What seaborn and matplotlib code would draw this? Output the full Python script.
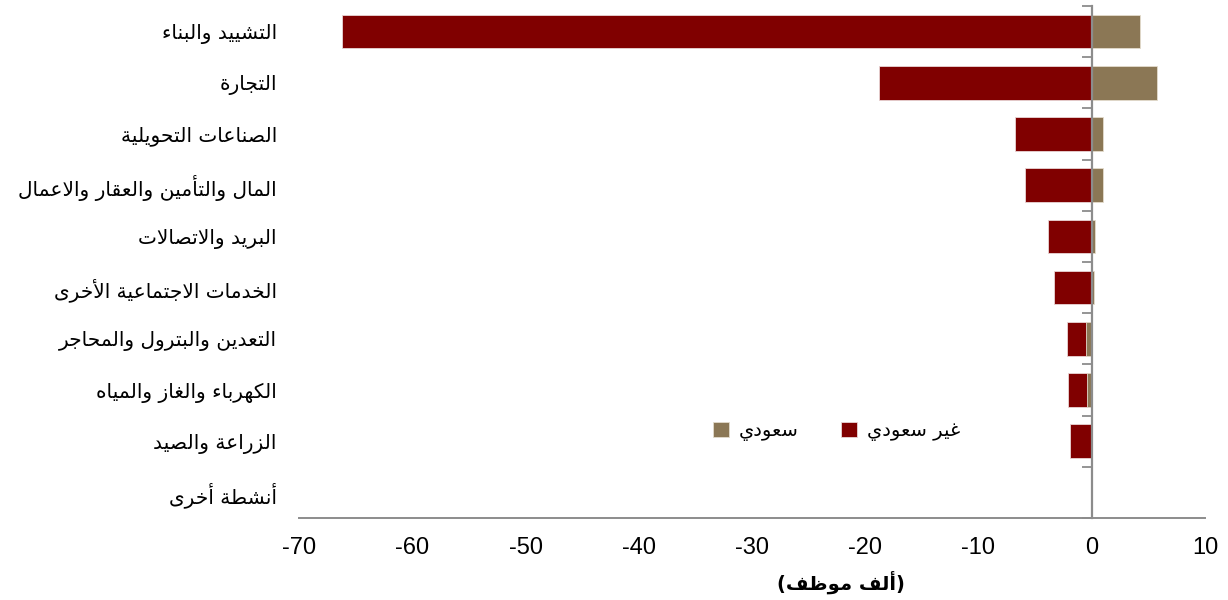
import matplotlib
matplotlib.use('Agg')
import matplotlib.pyplot as plt
import seaborn as sns
import numpy as np
import pandas as pd

# data (thousand employees)
sectors = [
    'التشييد والبناء',
    'التجارة',
    'الصناعات التحويلية',
    'المال والتأمين والعقار والاعمال',
    'البريد والاتصالات',
    'الخدمات الاجتماعية الأخرى',
    'التعدين والبترول والمحاجر',
    'الكهرباء والغاز والمياه',
    'الزراعة والصيد',
    'أنشطة أخرى',
]
saudi = [4.3, 5.8, 1.0, 1.0, 0.3, 0.2, -0.5, -0.4, 0.0, 0.0]
non_saudi = [-66.2, -18.8, -6.8, -5.9, -3.9, -3.3, -1.7, -1.7, -1.9, 0.0]
x_ticks = [-70, -60, -50, -40, -30, -20, -10, 0, 10]
saudi_label = 'سعودي'
non_saudi_label = 'غير سعودي'
x_label = 'ألف موظف'

# matplotlib has no arabic shaping, so map letters to presentation forms
# tuple: (isolated, final, initial, medial)
FORMS = {
    '\u0621': ('\uFE80',),
    '\u0623': ('\uFE83', '\uFE84'),
    '\u0627': ('\uFE8D', '\uFE8E'),
    '\u0628': ('\uFE8F', '\uFE90', '\uFE91', '\uFE92'),
    '\u0629': ('\uFE93', '\uFE94'),
    '\u062A': ('\uFE95', '\uFE96', '\uFE97', '\uFE98'),
    '\u062C': ('\uFE9D', '\uFE9E', '\uFE9F', '\uFEA0'),
    '\u062D': ('\uFEA1', '\uFEA2', '\uFEA3', '\uFEA4'),
    '\u062E': ('\uFEA5', '\uFEA6', '\uFEA7', '\uFEA8'),
    '\u062F': ('\uFEA9', '\uFEAA'),
    '\u0631': ('\uFEAD', '\uFEAE'),
    '\u0632': ('\uFEAF', '\uFEB0'),
    '\u0633': ('\uFEB1', '\uFEB2', '\uFEB3', '\uFEB4'),
    '\u0634': ('\uFEB5', '\uFEB6', '\uFEB7', '\uFEB8'),
    '\u0635': ('\uFEB9', '\uFEBA', '\uFEBB', '\uFEBC'),
    '\u0637': ('\uFEC1', '\uFEC2', '\uFEC3', '\uFEC4'),
    '\u0638': ('\uFEC5', '\uFEC6', '\uFEC7', '\uFEC8'),
    '\u0639': ('\uFEC9', '\uFECA', '\uFECB', '\uFECC'),
    '\u063A': ('\uFECD', '\uFECE', '\uFECF', '\uFED0'),
    '\u0641': ('\uFED1', '\uFED2', '\uFED3', '\uFED4'),
    '\u0642': ('\uFED5', '\uFED6', '\uFED7', '\uFED8'),
    '\u0643': ('\uFED9', '\uFEDA', '\uFEDB', '\uFEDC'),
    '\u0644': ('\uFEDD', '\uFEDE', '\uFEDF', '\uFEE0'),
    '\u0645': ('\uFEE1', '\uFEE2', '\uFEE3', '\uFEE4'),
    '\u0646': ('\uFEE5', '\uFEE6', '\uFEE7', '\uFEE8'),
    '\u0647': ('\uFEE9', '\uFEEA', '\uFEEB', '\uFEEC'),
    '\u0648': ('\uFEED', '\uFEEE'),
    '\u0649': ('\uFEEF', '\uFEF0'),
    '\u064A': ('\uFEF1', '\uFEF2', '\uFEF3', '\uFEF4'),
}
LAM_ALEF = {'\u0627': ('\uFEFB', '\uFEFC'), '\u0623': ('\uFEF7', '\uFEF8')}


def shape(text):
    items = []
    i = 0
    while i < len(text):
        c = text[i]
        if c == '\u0644' and i + 1 < len(text) and text[i + 1] in LAM_ALEF:
            items.append(LAM_ALEF[text[i + 1]])
            i += 2
        else:
            items.append(FORMS.get(c, c))
            i += 1
    out = []
    for k, f in enumerate(items):
        if isinstance(f, str):
            out.append(f)
            continue
        prev = items[k - 1] if k > 0 else None
        nxt = items[k + 1] if k + 1 < len(items) else None
        jp = isinstance(prev, tuple) and len(prev) == 4 and len(f) >= 2
        jn = len(f) == 4 and isinstance(nxt, tuple) and len(nxt) >= 2
        if jp and jn:
            out.append(f[3])
        elif jp:
            out.append(f[1])
        elif jn:
            out.append(f[2])
        else:
            out.append(f[0])
    return ''.join(reversed(out))


labels = [shape(s) for s in sectors]

# red bar carries the total where the saudi part is negative, saudi drawn over it
red_extent = [n + min(s, 0) for n, s in zip(non_saudi, saudi)]
df = pd.DataFrame({'sector': labels, 'saudi': saudi, 'red': red_extent})

sns.set_theme(style='white')
plt.rcParams['font.family'] = ['DejaVu Sans']
plt.rcParams['text.color'] = 'black'
plt.rcParams['xtick.labelcolor'] = 'black'
plt.rcParams['ytick.labelcolor'] = 'black'

fig = plt.figure(figsize=(12.28, 6.0), dpi=100)
ax = fig.add_axes([299 / 1228, 1 - 518 / 600, 906 / 1228, 512 / 600])

red = '#800000'
brown = '#8b7755'
sns.barplot(data=df, x='red', y='sector', color=red, width=0.66,
            edgecolor='#e9d6d6', linewidth=0.6, saturation=1, ax=ax,
            label=shape(non_saudi_label))
sns.barplot(data=df, x='saudi', y='sector', color=brown, width=0.66,
            edgecolor='#e4dccd', linewidth=0.6, saturation=1, ax=ax,
            label=shape(saudi_label))

ax.set_xlim(-70, 10)
ax.set_ylim(9.5, -0.5)
ax.set_xticks(x_ticks)
ax.set_xticklabels([str(t) for t in x_ticks], family='Liberation Sans', fontsize=17)
ax.tick_params(axis='x', direction='out', length=7, width=1.3, color='#8c8c8c', pad=7)
ax.tick_params(axis='y', length=0, pad=16, labelsize=14.5)
ax.set_ylabel('')
ax.set_xlabel('')
for side in ['left', 'right', 'top']:
    ax.spines[side].set_visible(False)
ax.spines['bottom'].set_color('#8c8c8c')
ax.spines['bottom'].set_linewidth(1.4)

# vertical axis line at zero with ticks between categories, drawn over the bars
sec = ax.secondary_yaxis(70 / 80)
sec.set_zorder(5)
sec.set_alignment('left')
sec.set_yticks(np.arange(-0.5, 10, 1))
sec.set_yticklabels([])
sec.tick_params(direction='out', length=7, width=1.3, color='#8c8c8c')
sec.spines['left'].set_color('#8c8c8c')
sec.spines['left'].set_linewidth(1.6)

ax.text(0.598, -0.125, '(' + shape(x_label) + ')', transform=ax.transAxes,
        ha='center', va='center', fontsize=14, fontweight='bold')

handles, lbls = ax.get_legend_handles_labels()
ax.legend(handles[::-1], lbls[::-1], loc='center left', bbox_to_anchor=(0.438, 0.17),
          ncol=2, frameon=False, fontsize=14, handlelength=0.8, handleheight=0.8,
          handletextpad=0.5, columnspacing=2.2)

fig.savefig('out.png', dpi=100)
